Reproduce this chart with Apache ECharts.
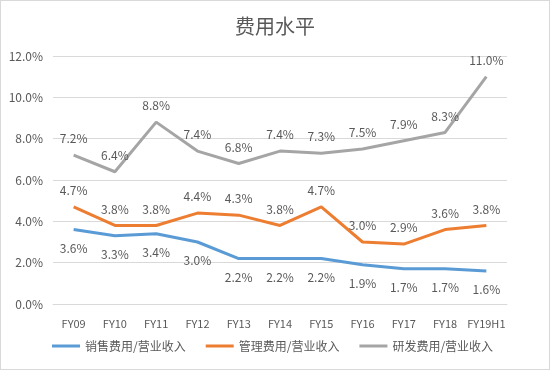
<!DOCTYPE html>
<html><head><meta charset="utf-8">
<script src="https://cdn.jsdelivr.net/npm/echarts@6/dist/echarts.min.js"></script>
<style>html,body{margin:0;padding:0;background:#fff}#c{width:550px;height:370px;box-sizing:border-box;border:1px solid #d9d9d9}</style>
</head><body><div id="c"></div>
<script>
const categories = ['FY09','FY10','FY11','FY12','FY13','FY14','FY15','FY16','FY17','FY18','FY19H1'];
const sales = [3.6,3.3,3.4,3.0,2.2,2.2,2.2,1.9,1.7,1.7,1.6];
const admin = [4.7,3.8,3.8,4.4,4.3,3.8,4.7,3.0,2.9,3.6,3.8];
const rnd = [7.2,6.4,8.8,7.4,6.8,7.4,7.3,7.5,7.9,8.3,11.0];
const seriesNames = ['销售费用/营业收入','管理费用/营业收入','研发费用/营业收入'];
const colors = ['#5B9BD5','#ED7D31','#A5A5A5'];
const font = '"Noto Sans CJK SC", "Noto Sans", sans-serif';
const chart = echarts.init(document.getElementById('c'));
function mk(name, data, color, pos){
  return {name, type:'line', data, symbol:'circle', symbolSize:1, showSymbol:true, smooth:false,
    lineStyle:{color, width:3}, itemStyle:{color, opacity:0},
    label:{show:true, position:pos, distance:pos==='bottom'?12:10, formatter:p=>p.value.toFixed(1)+'%', color:'#595959', fontSize:12, fontFamily:font, opacity:1}};
}
chart.setOption({
  animation:false,
  title:{text:'费用水平', left:'center', top:10, textStyle:{fontSize:20, fontWeight:'normal', color:'#595959', fontFamily:font}},
  grid:{left:52, right:42, top:55, bottom:65},
  legend:{bottom:12, left:46, itemWidth:28, itemHeight:3, itemGap:20, icon:'rect',
    textStyle:{fontSize:12, color:'#595959', fontFamily:font},
    data:seriesNames.map((n,i)=>({name:n, itemStyle:{color:colors[i], opacity:1}}))},
  xAxis:{type:'category', data:categories, boundaryGap:true,
    axisLine:{show:true, lineStyle:{color:'#d9d9d9'}}, axisTick:{show:false},
    axisLabel:{interval:0, color:'#595959', fontSize:11, fontFamily:font, margin:14}},
  yAxis:{type:'value', min:0, max:12, interval:2,
    axisLabel:{formatter:v=>v.toFixed(1)+'%', color:'#595959', fontSize:12, fontFamily:font, margin:10},
    splitLine:{lineStyle:{color:'#d9d9d9'}}, axisLine:{show:false}, axisTick:{show:false}},
  series:[mk(seriesNames[0], sales, colors[0],'bottom'), mk(seriesNames[1], admin, colors[1],'top'), mk(seriesNames[2], rnd, colors[2],'top')]
});
</script></body></html>
